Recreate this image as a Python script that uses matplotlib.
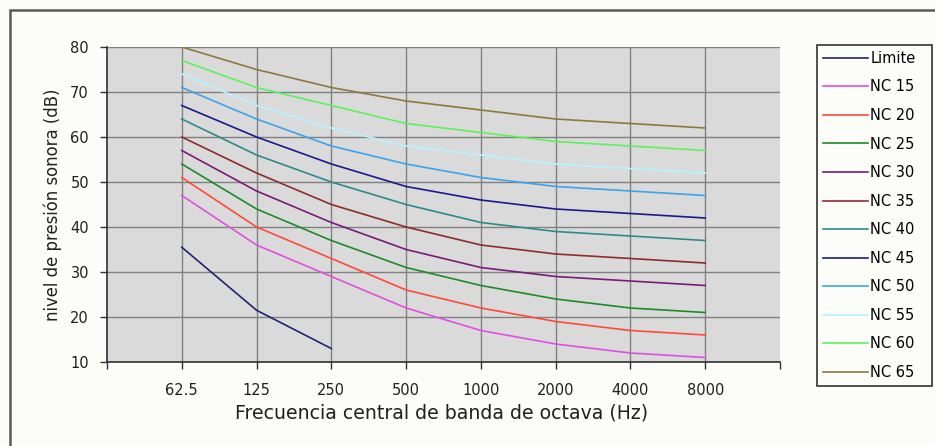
import matplotlib
matplotlib.use("Agg")
import matplotlib.pyplot as plt
import numpy as np

plt.rcParams['font.family'] = ['DejaVu Sans']

categories = ['62.5', '125', '250', '500', '1000', '2000', '4000', '8000']

limite = [35.5, 21.5, 13.0, np.nan, np.nan, np.nan, np.nan, np.nan]
nc15 = [47, 36, 29, 22, 17, 14, 12, 11]
nc20 = [51, 40, 33, 26, 22, 19, 17, 16]
nc25 = [54, 44, 37, 31, 27, 24, 22, 21]
nc30 = [57, 48, 41, 35, 31, 29, 28, 27]
nc35 = [60, 52, 45, 40, 36, 34, 33, 32]
nc40 = [64, 56, 50, 45, 41, 39, 38, 37]
nc45 = [67, 60, 54, 49, 46, 44, 43, 42]
nc50 = [71, 64, 58, 54, 51, 49, 48, 47]
nc55 = [74, 67, 62, 58, 56, 54, 53, 52]
nc60 = [77, 71, 67, 63, 61, 59, 58, 57]
nc65 = [80, 75, 71, 68, 66, 64, 63, 62]

series_names = ['Limite', 'NC 15', 'NC 20', 'NC 25', 'NC 30', 'NC 35',
                'NC 40', 'NC 45', 'NC 50', 'NC 55', 'NC 60', 'NC 65']
series_values = [limite, nc15, nc20, nc25, nc30, nc35,
                 nc40, nc45, nc50, nc55, nc60, nc65]
colors = ['#23236e', '#e050e0', '#ff4a3a', '#1e8a28', '#7a1a7a', '#8e2c2c',
          '#2e8a8a', '#1a1a8c', '#3aa4ee', '#b8f2ff', '#5ef05e', '#8c7a3c']

y_ticks = [10, 20, 30, 40, 50, 60, 70, 80]

fig = plt.figure(figsize=(9.35, 4.46), dpi=100)
fig.patch.set_facecolor('#fcfcf9')

# outer chart border (top/left visible, rest off image)
fig.add_artist(plt.Rectangle((10/935, -0.1), 1.2, 1 - 10/446 + 0.1,
                             transform=fig.transFigure, fill=False,
                             edgecolor='#5a5a5a', linewidth=1.8))

ax = fig.add_axes([107/935, 84/446, 673/935, 315/446])
ax.set_facecolor('#dadada')

x = np.arange(1, len(categories) + 1)
for name, vals, c in zip(series_names, series_values, colors):
    ax.plot(x, vals, color=c, linewidth=1.2, label=name, zorder=3)

ax.set_xlim(0, 9)
ax.set_ylim(10, 80)
ax.set_xticks(np.arange(0, 10))
ax.set_xticklabels([''] + categories + [''])
ax.set_yticks(y_ticks)
ax.tick_params(axis='both', direction='out', length=5, width=1,
               color='#303030', labelsize=10.5, labelcolor='#202020')
ax.tick_params(axis='x', pad=10)
ax.tick_params(axis='y', pad=8)

for v in x:
    ax.axvline(v, color='#808080', linewidth=1, zorder=1)
for v in y_ticks:
    ax.axhline(v, color='#808080', linewidth=1, zorder=1)

for s in ['top', 'right']:
    ax.spines[s].set_visible(False)
for s in ['left', 'bottom']:
    ax.spines[s].set_color('#303030')
    ax.spines[s].set_linewidth(1.2)
    ax.spines[s].set_zorder(4)

ax.set_xlabel('Frecuencia central de banda de octava (Hz)', fontsize=13.6,
              color='#202020')
ax.set_ylabel('nivel de presión sonora (dB)', fontsize=11.9,
              color='#202020')
ax.xaxis.set_label_coords(0.497, -0.133)
ax.yaxis.set_label_coords(-0.067, 0.50)

leg_top = 1 - 45/446
leg = fig.legend(loc='upper left',
                 bbox_to_anchor=(817/935, leg_top - 0.1, 115/935, 0.1),
                 mode='expand',
                 fontsize=10.5, frameon=True, fancybox=False, borderaxespad=0,
                 labelspacing=0.93, handlelength=3.1, handletextpad=0.15,
                 borderpad=0.4)
leg.get_frame().set_edgecolor('#000000')
leg.get_frame().set_linewidth(1.2)
leg.get_frame().set_facecolor('#fcfcf9')

fig.savefig('out.png', dpi=100, facecolor=fig.get_facecolor())
